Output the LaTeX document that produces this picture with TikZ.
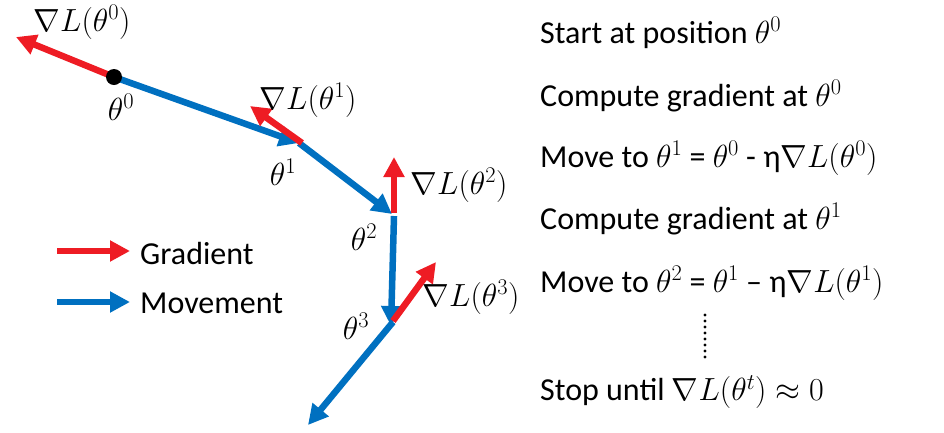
\documentclass[tikz,border=0pt]{standalone}
\usepackage{fix-cm}
\usepackage{fontspec}
\setmainfont{Carlito}
\usetikzlibrary{arrows.meta}
\definecolor{gred}{RGB}{238,28,36}
\definecolor{gblue}{RGB}{0,112,192}
\begin{document}
\begin{tikzpicture}[x=1pt,y=-1pt,
  every node/.style={inner sep=0pt, font=\fontsize{32}{38}\selectfont},
  grad/.style={draw=gred, line width=6.5pt, -{Triangle[length=20pt,width=20pt]}},
  move/.style={draw=gblue, line width=6.5pt, -{Triangle[length=20pt,width=20pt]}},
  step text/.style={anchor=west}]
\useasboundingbox (0,0) rectangle (944,432);
% trajectory points
\coordinate (t0) at (114,77);
\coordinate (t1) at (299,143);
\coordinate (t1s) at (302,143);
\coordinate (t2) at (392,214);
\coordinate (t2s) at (394,213);
\coordinate (t2b) at (394,216);
\coordinate (t3) at (391,326);
\coordinate (t3s) at (393,321);
\coordinate (t3b) at (393,322);
\coordinate (tend) at (308,425);
% gradient tips
\coordinate (g0) at (16,37);
\coordinate (g1) at (250,106);
\coordinate (g2) at (394,157);
\coordinate (g3) at (436,262);
% movement
\draw[move] (t0) -- (t1);
\draw[move] (t1) -- (t2);
\draw[move] (t2b) -- (t3);
\draw[move] (t3b) -- (tend);
% gradients
\draw[grad] (t0) -- (g0);
\draw[grad] (t1s) -- (g1);
\draw[grad] (t2s) -- (g2);
\draw[grad] (t3s) -- (g3);
\fill[black] (t0) circle (8pt);
% labels
\node (lg0) at (82,22) {$\nabla L(\theta^0)$};
\node (lt0) at (121,107) {$\theta^0$};
\node (lg1) at (308,100) {$\nabla L(\theta^1)$};
\node (lt1) at (283,172) {$\theta^1$};
\node (lg2) at (459,185) {$\nabla L(\theta^2)$};
\node (lt2) at (364,237) {$\theta^2$};
\node (lt3) at (356,326) {$\theta^3$};
\node (lg3) at (471,297) {$\nabla L(\theta^3)$};
% legend
\coordinate (la) at (57,251);
\coordinate (lb) at (130,251);
\coordinate (lc) at (57,302);
\coordinate (ld) at (130,302);
\draw[grad] (la) -- (lb);
\draw[move] (lc) -- (ld);
\node[anchor=west] (lgrad) at (140,253) {Gradient};
\node[anchor=west] (lmove) at (140,303) {Movement};
% steps
\node[step text] (s1) at (540,33) {Start at position $\theta^0$};
\node[step text] (s2) at (540,96) {Compute gradient at $\theta^0$};
\node[step text] (s3) at (540,158) {Move to $\theta^1$ = $\theta^0$ - η$\nabla L(\theta^0)$};
\node[step text] (s4) at (540,219) {Compute gradient at $\theta^1$};
\node[step text] (s5) at (540,283) {Move to $\theta^2$ = $\theta^1$ – η$\nabla L(\theta^1)$};
\node[step text] (s6) at (540,392) {Stop until $\nabla L(\theta^t)\approx 0$};
\foreach \i in {0,...,7} {\fill (705,{315+\i*6}) circle (1.6pt);}
\end{tikzpicture}
\end{document}
